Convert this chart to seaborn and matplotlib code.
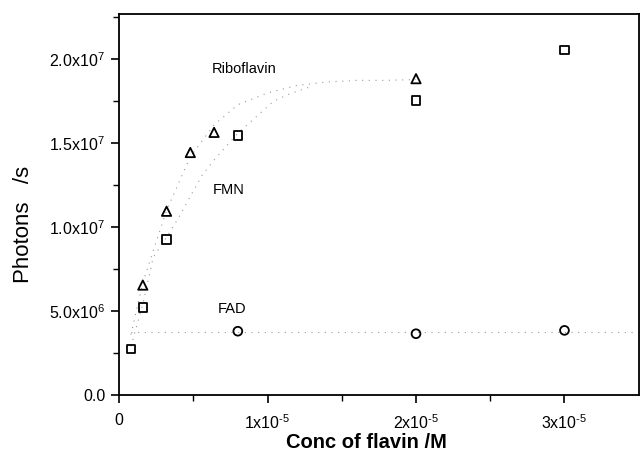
import numpy as np
import pandas as pd
import matplotlib
matplotlib.use("Agg")
import matplotlib.pyplot as plt
import seaborn as sns

# ---- data ----
ribo_x = [1.6e-6, 3.2e-6, 4.8e-6, 6.4e-6, 2.0e-5]
ribo_y = [6.55e6, 10.95e6, 14.45e6, 15.65e6, 18.85e6]

fmn_x = [0.8e-6, 1.6e-6, 3.2e-6, 8.0e-6, 2.0e-5, 3.0e-5]
fmn_y = [2.75e6, 5.2e6, 9.25e6, 15.45e6, 17.55e6, 20.55e6]

fad_x = [8.0e-6, 2.0e-5, 3.0e-5]
fad_y = [3.8e6, 3.65e6, 3.85e6]

# dotted guide curves
ribo_fit_x = [0.8e-6, 1.6e-6, 3.2e-6, 4.8e-6, 6.4e-6, 8.0e-6, 1.0e-5, 1.2e-5, 1.4e-5, 1.6e-5, 1.8e-5, 2.0e-5]
ribo_fit_y = [3.6e6, 6.7e6, 11.0e6, 14.2e6, 16.1e6, 17.3e6, 18.0e6, 18.45e6, 18.65e6, 18.75e6, 18.75e6, 18.8e6]
fmn_fit_x = [0.8e-6, 1.6e-6, 2.3e-6, 3.2e-6, 4.1e-6, 4.9e-6, 5.6e-6, 6.4e-6, 8.0e-6, 1.04e-5, 1.15e-5, 1.3e-5]
fmn_fit_y = [2.9e6, 5.4e6, 8.2e6, 9.4e6, 10.7e6, 12.0e6, 13.1e6, 14.0e6, 15.6e6, 17.5e6, 17.95e6, 18.4e6]
fad_fit_x = [0.8e-6, 8.0e-6, 2.0e-5, 3.5e-5]
fad_fit_y = [3.75e6, 3.75e6, 3.75e6, 3.75e6]

labels = ["Riboflavin", "FMN", "FAD"]
label_x = [6.25e-6, 6.3e-6, 6.65e-6]
label_y = [19.4e6, 12.2e6, 5.1e6]

xticks = [0, 1e-5, 2e-5, 3e-5]
xtick_labels = ["0", "1x10$^{\\text{-}5}$", "2x10$^{\\text{-}5}$", "3x10$^{\\text{-}5}$"]
yticks = [0, 5e6, 1e7, 1.5e7, 2e7]
ytick_labels = ["0.0", "5.0x10$^{6}$", "1.0x10$^{7}$", "1.5x10$^{7}$", "2.0x10$^{7}$"]

sns.set_style("ticks")
plt.rcParams["font.family"] = ["Liberation Sans", "DejaVu Sans"]
plt.rcParams["mathtext.fontset"] = "custom"
plt.rcParams["mathtext.rm"] = "Liberation Sans"
plt.rcParams["mathtext.it"] = "Liberation Sans"
plt.rcParams["mathtext.default"] = "regular"
plt.rcParams["text.color"] = "black"
plt.rcParams["axes.labelcolor"] = "black"
plt.rcParams["xtick.color"] = "black"
plt.rcParams["ytick.color"] = "black"

fig = plt.figure(figsize=(6.4, 4.54), dpi=100)
ax = fig.add_axes([0.186, 0.130, 0.812, 0.839])

dot_kw = dict(color="#999999", linewidth=0.8, linestyle=(0, (1, 5)), ax=ax, sort=False, estimator=None)
sns.lineplot(x=ribo_fit_x, y=ribo_fit_y, **dot_kw)
sns.lineplot(x=fmn_fit_x, y=fmn_fit_y, **dot_kw)
sns.lineplot(x=fad_fit_x, y=fad_fit_y, **dot_kw)

mk = dict(facecolor="none", edgecolor="black", linewidth=1.3, ax=ax, zorder=3)
sns.scatterplot(x=ribo_x, y=ribo_y, marker="^", s=45, **mk)
sns.scatterplot(x=fmn_x, y=fmn_y, marker="s", s=38, **mk)
sns.scatterplot(x=fad_x, y=fad_y, marker="o", s=40, **mk)

for t, x, y in zip(labels, label_x, label_y):
    ax.text(x, y, t, fontsize=10.5, ha="left", va="center", color="black")

ax.set_xlim(0, 3.5e-5)
ax.set_ylim(0, 2.27e7)
ax.set_xticks(xticks)
ax.set_xticklabels(xtick_labels, fontsize=11.5)
ax.set_yticks(yticks)
ax.set_yticklabels(ytick_labels, fontsize=11.5)
ax.set_xticks([5e-6, 1.5e-5, 2.5e-5], minor=True)
ax.set_yticks([2.5e6, 7.5e6, 1.25e7, 1.75e7, 2.25e7], minor=True)
ax.tick_params(axis="x", which="major", direction="out", length=6, width=1.2, pad=7)
ax.tick_params(axis="y", which="major", direction="out", length=6, width=1.2, pad=4)
ax.tick_params(axis="both", which="minor", direction="out", length=4, width=1.0)
for s in ax.spines.values():
    s.set_linewidth(1.3)
    s.set_color("black")
    s.set_visible(True)

ax.set_xlabel("Conc of flavin /M", fontsize=14.5, fontweight="bold")
ax.xaxis.set_label_coords(0.477, -0.100)
ax.set_ylabel("Photons   /s", fontsize=16)
ax.yaxis.set_label_coords(-0.163, 0.447)

fig.savefig("out.png", dpi=100)
